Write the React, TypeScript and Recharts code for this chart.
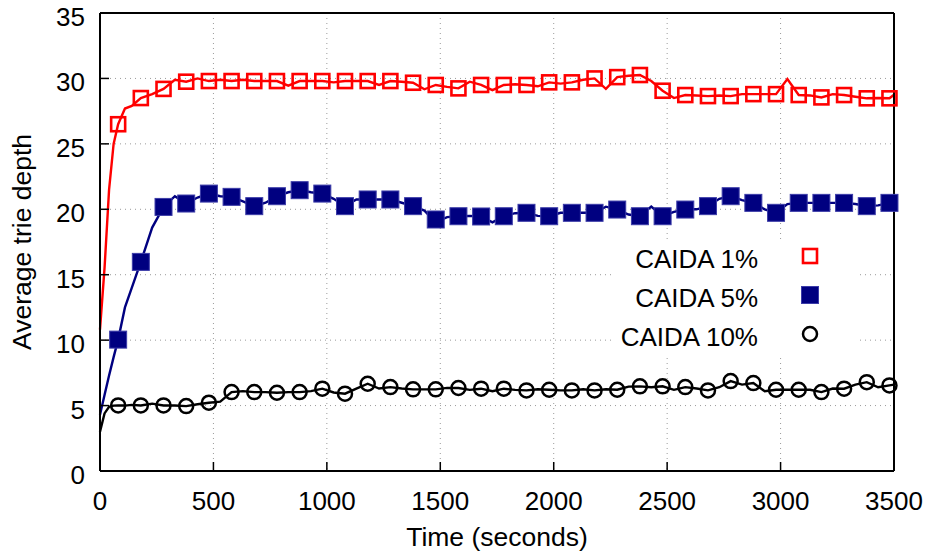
import { CartesianGrid, ComposedChart, Legend, Line, XAxis, YAxis } from "recharts";

// sample times of the curves (seconds)
const lineTimes = [
  0, 20, 40, 60, 80, 110, 140,
  180, 230, 280, 330, 380, 430, 480, 530, 580, 630,
  680, 730, 780, 830, 880, 930, 980, 1030, 1080, 1130,
  1180, 1230, 1280, 1330, 1380, 1430, 1480, 1530, 1580, 1630,
  1680, 1730, 1780, 1830, 1880, 1930, 1980, 2030, 2080, 2130,
  2180, 2230, 2280, 2330, 2380, 2430, 2480, 2530, 2580, 2630,
  2680, 2730, 2780, 2830, 2880, 2930, 2980, 3030, 3080, 3130,
  3180, 3230, 3280, 3330, 3380, 3430, 3480,
  3500,
];

const redLine = [
  10.8, 15.5, 21.5, 25.0, 26.5, 27.7, 27.9,
  28.5, 28.8, 29.2, 29.9, 29.75, 30.0, 29.8, 29.9, 29.8, 29.9,
  29.8, 29.8, 29.8, 29.45, 29.8, 29.8, 29.8, 29.7, 29.8, 29.8,
  29.8, 29.5, 29.8, 29.75, 29.67, 29.17, 29.5, 29.35, 29.24, 29.75,
  29.5, 29.1, 29.5, 29.55, 29.5, 29.4, 29.7, 29.6, 29.7, 29.9,
  30.0, 29.2, 30.1, 30.2, 30.26, 29.8, 29.06, 28.5, 28.73, 28.7,
  28.65, 28.7, 28.65, 28.8, 28.8, 28.8, 28.8, 29.95, 28.73, 28.7,
  28.55, 28.8, 28.73, 28.6, 28.48, 28.5, 28.48,
  28.75,
];

const blueLine = [
  4.3, 5.8, 7.3, 8.7, 10.04, 12.5, 14.0,
  15.98, 18.6, 20.18, 21.0, 20.44, 20.9, 21.2, 21.0, 20.95, 20.6,
  20.24, 20.5, 21.0, 21.3, 21.46, 21.3, 21.2, 20.8, 20.24, 20.75,
  20.75, 20.75, 20.75, 20.5, 20.24, 19.9, 19.0, 19.4, 19.47, 19.5,
  19.45, 19.0, 19.47, 19.7, 19.73, 19.5, 19.47, 19.73, 19.73, 19.73,
  19.73, 20.2, 19.98, 19.6, 19.47, 20.2, 19.47, 19.8, 19.98, 20.0,
  20.24, 20.8, 21.0, 20.7, 20.49, 20.0, 19.73, 20.4, 20.49, 20.49,
  20.49, 20.49, 20.49, 20.4, 20.24, 20.3, 20.49,
  20.5,
];

const blackLine = [
  3.0, 4.4, 4.9, 5.0, 5.01, 5.0, 5.05,
  5.01, 5.15, 5.01, 5.0, 4.96, 5.1, 5.22, 5.3, 6.03, 6.1,
  6.03, 6.03, 5.98, 6.03, 6.03, 6.1, 6.29, 6.0, 5.91, 6.3,
  6.67, 6.3, 6.41, 6.3, 6.24, 6.24, 6.24, 6.35, 6.34, 6.2,
  6.29, 6.1, 6.29, 6.2, 6.16, 6.25, 6.21, 6.16, 6.16, 6.25,
  6.16, 6.25, 6.21, 6.45, 6.47, 6.4, 6.47, 6.2, 6.41, 6.3,
  6.16, 6.4, 6.87, 6.6, 6.72, 6.1, 6.21, 6.21, 6.21, 6.21,
  6.03, 6.3, 6.29, 6.6, 6.79, 6.4, 6.54,
  6.6,
];

// point markers, every 100 s
const markerTimes = [
  80, 180, 280, 380, 480, 580, 680, 780, 880, 980,
  1080, 1180, 1280, 1380, 1480, 1580, 1680, 1780, 1880, 1980,
  2080, 2180, 2280, 2380, 2480, 2580, 2680, 2780, 2880, 2980,
  3080, 3180, 3280, 3380, 3480,
];

const redMarks = [
  26.5, 28.5, 29.2, 29.75, 29.8, 29.8, 29.8, 29.8, 29.8, 29.8,
  29.8, 29.8, 29.8, 29.67, 29.5, 29.24, 29.5, 29.5, 29.5, 29.7,
  29.7, 30.0, 30.1, 30.26, 29.06, 28.73, 28.65, 28.65, 28.8, 28.8,
  28.73, 28.55, 28.73, 28.48, 28.48,
];

const blueMarks = [
  10.04, 15.98, 20.18, 20.44, 21.2, 20.95, 20.24, 21.0, 21.46, 21.2,
  20.24, 20.75, 20.75, 20.24, 19.22, 19.47, 19.45, 19.47, 19.73, 19.47,
  19.73, 19.73, 19.98, 19.47, 19.47, 19.98, 20.24, 21.0, 20.49, 19.73,
  20.49, 20.49, 20.49, 20.24, 20.49,
];

const blackMarks = [
  5.01, 5.01, 5.01, 4.96, 5.22, 6.03, 6.03, 5.98, 6.03, 6.29,
  5.91, 6.67, 6.41, 6.24, 6.24, 6.34, 6.29, 6.29, 6.16, 6.21,
  6.16, 6.16, 6.21, 6.47, 6.47, 6.41, 6.16, 6.87, 6.72, 6.21,
  6.21, 6.03, 6.29, 6.79, 6.54,
];

const xTicks = [0, 500, 1000, 1500, 2000, 2500, 3000, 3500];
const yTicks = [0, 5, 10, 15, 20, 25, 30, 35];

const RED = "#ff0000";
const NAVY = "#000080";
const FONT = '"Liberation Sans", Arial, Helvetica, sans-serif';
const FS = 26;

const rows = lineTimes.map((t, i) => {
  const m = markerTimes.indexOf(t);
  return {
    t,
    red: redLine[i],
    blue: blueLine[i],
    black: blackLine[i],
    redM: m >= 0 ? redMarks[m] : null,
    blueM: m >= 0 ? blueMarks[m] : null,
    blackM: m >= 0 ? blackMarks[m] : null,
  };
});

type Kind = "open-square" | "filled-square" | "circle";

const legendItems: { name: string; kind: Kind }[] = [
  { name: "CAIDA 1%", kind: "open-square" },
  { name: "CAIDA 5%", kind: "filled-square" },
  { name: "CAIDA 10%", kind: "circle" },
];

function marker(kind: Kind, cx: number, cy: number, key?: string) {
  if (kind === "open-square") {
    return <rect key={key} x={cx - 7} y={cy - 7} width={14} height={14} fill="none" stroke={RED} strokeWidth={2.6} />;
  }
  if (kind === "filled-square") {
    return <rect key={key} x={cx - 8.5} y={cy - 8.5} width={17} height={17} fill={NAVY} stroke="#3c3ca8" strokeWidth={1} />;
  }
  return <circle key={key} cx={cx} cy={cy} r={7} fill="none" stroke="#000" strokeWidth={2.5} />;
}

const dotFor = (kind: Kind) => (props: any) => {
  const { cx, cy, value, index } = props;
  const key = `${kind}-${index}`;
  if (value == null || cx == null || cy == null) return <g key={key} />;
  return marker(kind, cx, cy, key);
};

const XTick = (props: any) => {
  const { x, y, payload } = props;
  return (
    <text x={x} y={y} dy={48} textAnchor="middle" fontSize={FS} fontFamily={FONT} fill="#000">
      {payload.value}
    </text>
  );
};

const YTick = (props: any) => {
  const { x, y, payload } = props;
  return (
    <text x={x} y={y} dy={13} textAnchor="end" fontSize={FS} fontFamily={FONT} fill="#000">
      {payload.value}
    </text>
  );
};

const XTitle = (props: any) => {
  const vb = props.viewBox;
  return (
    <text x={vb.x + vb.width / 2} y={vb.y + 75} textAnchor="middle" fontSize={26.5} fontFamily={FONT} fill="#000">
      Time (seconds)
    </text>
  );
};

const YTitle = (props: any) => {
  const vb = props.viewBox;
  const x = vb.x + 31;
  const y = vb.y + vb.height / 2;
  return (
    <text x={x} y={y} transform={`rotate(-90, ${x}, ${y})`} textAnchor="middle" fontSize={26.5} fontFamily={FONT} fill="#000">
      Average trie depth
    </text>
  );
};

const renderLegend = () => (
  <svg width={245} height={117} style={{ display: "block", background: "#fff" }}>
    {legendItems.map((it, i) => (
      <g key={it.name}>
        <text x={143} y={28 + i * 39} textAnchor="end" fontSize={FS} fontFamily={FONT} fill="#000">
          {it.name}
        </text>
        {marker(it.kind, 195, 16 + i * 39)}
      </g>
    ))}
  </svg>
);

const axisLine = { stroke: "#000", strokeWidth: 2 };
const tickLine = { stroke: "#000", strokeWidth: 1.5 };

export default function App() {
  return (
    <div style={{ position: "absolute", left: 0, top: 0, width: 930, height: 556, background: "#fff" }}>
      <ComposedChart width={930} height={556} data={rows} margin={{ top: 8, right: 0, bottom: 0, left: 0 }}>
        <CartesianGrid xAxisId="bottom" yAxisId="left" stroke="#9a9a9a" strokeDasharray="1 4" />
        <XAxis
          xAxisId="bottom"
          dataKey="t"
          type="number"
          domain={[0, 3500]}
          ticks={xTicks}
          height={85}
          tickSize={-9}
          tickMargin={0}
          tick={<XTick />}
          axisLine={axisLine}
          tickLine={tickLine}
          label={<XTitle />}
        />
        <XAxis
          xAxisId="top"
          orientation="top"
          type="number"
          domain={[0, 3500]}
          ticks={xTicks}
          height={5}
          tickSize={-9}
          tick={false}
          axisLine={axisLine}
          tickLine={tickLine}
        />
        <YAxis
          yAxisId="left"
          type="number"
          domain={[0, 35]}
          ticks={yTicks}
          width={100}
          tickSize={-9}
          tickMargin={24}
          tick={<YTick />}
          axisLine={axisLine}
          tickLine={tickLine}
          label={<YTitle />}
        />
        <YAxis
          yAxisId="right"
          orientation="right"
          type="number"
          domain={[0, 35]}
          ticks={yTicks}
          width={36}
          tickSize={-9}
          tick={false}
          axisLine={axisLine}
          tickLine={tickLine}
        />
        <Line xAxisId="bottom" yAxisId="left" dataKey="red" stroke={RED} strokeWidth={2.4} dot={false} activeDot={false} isAnimationActive={false} />
        <Line xAxisId="bottom" yAxisId="left" dataKey="blue" stroke={NAVY} strokeWidth={2.4} dot={false} activeDot={false} isAnimationActive={false} />
        <Line xAxisId="bottom" yAxisId="left" dataKey="black" stroke="#000" strokeWidth={2.4} dot={false} activeDot={false} isAnimationActive={false} />
        <Line xAxisId="bottom" yAxisId="left" dataKey="redM" stroke="none" dot={dotFor("open-square")} activeDot={false} isAnimationActive={false} />
        <Line xAxisId="bottom" yAxisId="left" dataKey="blueM" stroke="none" dot={dotFor("filled-square")} activeDot={false} isAnimationActive={false} />
        <Line xAxisId="bottom" yAxisId="left" dataKey="blackM" stroke="none" dot={dotFor("circle")} activeDot={false} isAnimationActive={false} />
        <Legend
          content={renderLegend}
          layout="horizontal"
          verticalAlign="middle"
          align="center"
          width={245}
          height={117}
          wrapperStyle={{ left: 615, top: 240, width: 245, height: 117 }}
        />
      </ComposedChart>
    </div>
  );
}
